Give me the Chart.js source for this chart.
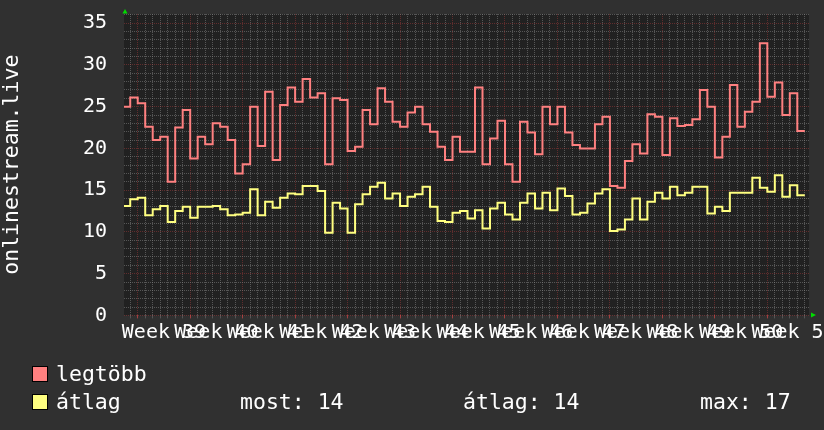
<!DOCTYPE html>
<html>
<head>
<meta charset="utf-8">
<script src="https://cdn.jsdelivr.net/npm/chart.js@4/dist/chart.umd.min.js"></script>
<style>
  html, body { margin: 0; background: #303030; }
  #wrap { position: relative; width: 824px; height: 430px; font-family: "DejaVu Sans Mono", monospace; color: #fff; }
  #wrap canvas { position: absolute; left: 0; top: 0; }
  .sw { position: absolute; left: 32px; width: 14px; height: 14px; border: 1px solid #000; }
  .lt { position: absolute; font-size: 21.5px; line-height: 24px; white-space: pre; }
</style>
</head>
<body>
<div id="wrap">
  <canvas id="chart" width="824" height="430"></canvas>
  <div class="sw" style="top:366px;background:#ff8080"></div>
  <div class="lt" style="left:56px;top:362px">legtöbb</div>
  <div class="sw" style="top:394px;background:#ffff80"></div>
  <div class="lt" style="left:56px;top:390px">átlag</div>
  <div class="lt" style="left:240px;top:390px">most: 14</div>
  <div class="lt" style="left:463px;top:390px">átlag: 14</div>
  <div class="lt" style="left:700px;top:390px">max: 17</div>
</div>
<script>
// daily samples, day 0 = first day of Week 39
const firstDay = -2;
const weekTicks = ['Week 39', 'Week 40', 'Week 41', 'Week 42', 'Week 43', 'Week 44', 'Week 45',
  'Week 46', 'Week 47', 'Week 48', 'Week 49', 'Week 50', 'Week 51'];

const maxValues = [
  25.0, 26.1, 25.4, 22.6, 21.0, 21.4, 16.0, 22.5, 24.6, 18.8,
  21.4, 20.5, 23.0, 22.6, 21.0, 17.0, 18.1, 25.0, 20.3, 26.8,
  18.6, 25.2, 27.3, 25.6, 28.3, 26.1, 26.6, 18.1, 26.0, 25.8,
  19.7, 20.2, 24.6, 22.9, 27.2, 25.6, 23.2, 22.6, 24.3, 25.0,
  22.9, 22.0, 20.2, 18.6, 21.4, 19.6, 19.6, 27.3, 18.1, 21.2,
  23.3, 18.1, 16.0, 23.2, 21.9, 19.3, 25.0, 22.9, 25.0, 21.9,
  20.4, 20.0, 20.0, 22.9, 23.8, 15.5, 15.3, 18.5, 20.5, 19.4,
  24.1, 23.8, 19.2, 23.6, 22.7, 22.8, 23.5, 27.0, 25.0, 18.9,
  21.4, 27.6, 22.6, 24.4, 25.6, 32.6, 26.2, 27.9, 24.0, 26.6,
  22.1
];

const avgValues = [
  13.1, 13.9, 14.1, 12.0, 12.7, 13.1, 11.2, 12.5, 13.0, 11.7,
  13.0, 13.0, 13.1, 12.7, 12.0, 12.1, 12.3, 15.1, 12.0, 13.6,
  12.9, 14.1, 14.6, 14.5, 15.5, 15.5, 14.9, 9.9, 13.5, 12.8,
  9.9, 13.3, 14.5, 15.4, 15.9, 14.0, 14.6, 13.1, 14.2, 14.5,
  15.4, 13.0, 11.3, 11.2, 12.3, 12.5, 11.6, 12.6, 10.4, 12.8,
  13.5, 12.1, 11.5, 13.5, 14.6, 12.8, 14.7, 12.6, 15.2, 14.3,
  12.1, 12.3, 13.4, 14.6, 15.1, 10.1, 10.3, 11.5, 14.0, 11.5,
  13.6, 14.7, 14.0, 15.4, 14.4, 14.7, 15.4, 15.4, 12.2, 13.0,
  12.5, 14.7, 14.7, 14.7, 16.5, 15.3, 14.8, 16.8, 14.2, 15.6,
  14.4
];

const xMin = -1.83;
const xMax = 89.56;
const minorGrid = 'rgba(140,140,140,0.5)';
const majorGrid = 'rgba(230,70,70,0.32)';
const axisFont = { family: 'DejaVu Sans Mono', size: 20 };

// each sample holds its value for one whole day
function toSteps(values) {
  const pts = values.map((v, i) => ({ x: firstDay + i, y: v }));
  pts.push({ x: firstDay + values.length, y: values[values.length - 1] });
  return pts;
}

const dayTicks = [];
for (let d = Math.ceil(xMin); d <= Math.floor(xMax); d++) dayTicks.push({ value: d });

const frame = {
  id: 'frame',
  beforeDraw(chart) {
    const { ctx, chartArea: a } = chart;
    ctx.save();
    ctx.fillStyle = '#303030';
    ctx.fillRect(0, 0, chart.width, chart.height);
    ctx.fillStyle = '#212121';
    ctx.fillRect(a.left, a.top, a.right - a.left, a.bottom - a.top);
    ctx.restore();
  },
  afterDraw(chart) {
    const { ctx, chartArea: a } = chart;
    ctx.save();
    ctx.fillStyle = '#00dd00';
    ctx.beginPath();
    ctx.moveTo(a.left - 1.5, a.top - 0.5);
    ctx.lineTo(a.left + 3.5, a.top - 0.5);
    ctx.lineTo(a.left + 1, a.top - 5);
    ctx.fill();
    ctx.beginPath();
    ctx.moveTo(a.right + 2, a.bottom - 3);
    ctx.lineTo(a.right + 2, a.bottom + 2);
    ctx.lineTo(a.right + 7, a.bottom - 0.5);
    ctx.fill();
    ctx.restore();
  }
};

new Chart(document.getElementById('chart'), {
  type: 'line',
  data: {
    datasets: [
      {
        label: 'legtöbb',
        data: toSteps(maxValues),
        borderColor: '#ff8080',
        borderWidth: 2,
        stepped: 'before',
        pointRadius: 0,
        fill: false,
        order: 1
      },
      {
        label: 'átlag',
        data: toSteps(avgValues),
        borderColor: '#ffff80',
        borderWidth: 2,
        stepped: 'before',
        pointRadius: 0,
        fill: false,
        order: 0
      }
    ]
  },
  options: {
    responsive: false,
    animation: false,
    layout: { padding: { top: 14, right: 15, bottom: 0, left: 0 } },
    plugins: { legend: { display: false }, tooltip: { enabled: false } },
    scales: {
      x: {
        type: 'linear',
        min: xMin,
        max: xMax,
        weight: 0,
        afterBuildTicks: s => { s.ticks = dayTicks.slice(); },
        afterFit: s => { s.height = 3; s.paddingLeft = 0; s.paddingRight = 0; },
        ticks: { display: false, autoSkip: false },
        grid: {
          color: c => (c.tick && c.tick.value % 7 === 0 ? majorGrid : minorGrid),
          tickColor: c => (c.tick && c.tick.value % 7 === 0 ? '#a04040' : '#555'),
          tickLength: 3,
          drawTicks: true
        },
        border: { display: false, dash: [1, 1] }
      },
      x2: {
        type: 'linear',
        position: 'bottom',
        min: xMin,
        max: xMax,
        weight: 1,
        afterBuildTicks: s => { s.ticks = weekTicks.map((_, i) => ({ value: 3.5 + 7 * i })); },
        afterFit: s => { s.height = 111.6; s.paddingLeft = 0; s.paddingRight = 0; },
        ticks: {
          autoSkip: false,
          maxRotation: 0,
          minRotation: 0,
          padding: 2,
          color: '#ffffff',
          font: axisFont,
          callback: (v, i) => weekTicks[i]
        },
        grid: { display: false, drawTicks: false },
        border: { display: false }
      },
      y: {
        min: 0,
        max: 36.1,
        afterFit: s => { s.width = 124; s.paddingTop = 0; s.paddingBottom = 0; },
        ticks: {
          stepSize: 1,
          includeBounds: false,
          autoSkip: false,
          padding: 17,
          color: '#ffffff',
          font: axisFont,
          callback: v => (v % 5 === 0 ? v : '')
        },
        grid: {
          color: c => (c.tick && c.tick.value % 5 === 0 ? majorGrid : minorGrid),
          drawTicks: false
        },
        border: { display: false, dash: [1, 1] },
        title: {
          display: true,
          text: 'onlinestream.live',
          color: '#ffffff',
          font: { family: 'DejaVu Sans Mono', size: 21.5 },
          padding: 0
        }
      }
    }
  },
  plugins: [frame]
});
</script>
</body>
</html>
